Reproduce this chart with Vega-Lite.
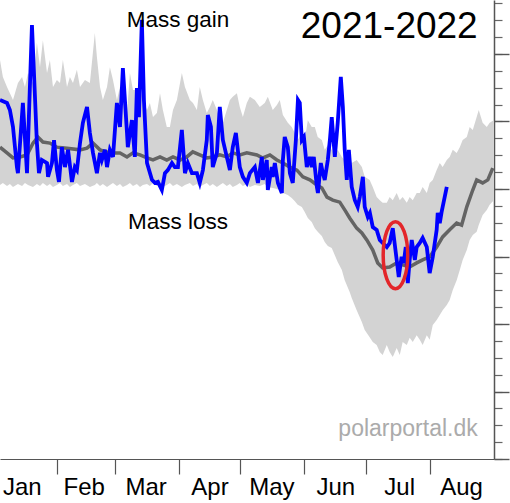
{
  "$schema": "https://vega.github.io/schema/vega-lite/v6.json",
  "width": 494,
  "height": 459,
  "autosize": {"type": "none"},
  "padding": {"left": 0, "top": 0, "right": 16, "bottom": 44},
  "background": "white",
  "config": {"view": {"stroke": null}, "font": "Liberation Sans"},
  "resolve": {"axis": {"x": "independent", "y": "independent"}},
  "datasets": {
    "band": [
      {"d":3.4,"hi":3.82,"lo":0.12},{"d":4.8,"hi":3.32,"lo":0.18},{"d":6.8,"hi":3.02,"lo":0.09},{"d":8.2,"hi":2.84,"lo":0.15},
      {"d":9.7,"hi":2.64,"lo":0.06},{"d":12.1,"hi":3.14,"lo":0.15},{"d":14.1,"hi":3.32,"lo":0.09},{"d":15.5,"hi":3.02,"lo":0.18},
      {"d":17.0,"hi":3.44,"lo":0.12},{"d":19.4,"hi":3.14,"lo":0.06},{"d":21.3,"hi":4.33,"lo":0.15},{"d":22.8,"hi":3.61,"lo":0.09},
      {"d":24.2,"hi":4.41,"lo":0.18},{"d":26.2,"hi":3.44,"lo":0.09},{"d":27.6,"hi":3.82,"lo":0.15},{"d":29.1,"hi":3.02,"lo":0.06},
      {"d":31.0,"hi":3.23,"lo":0.12},{"d":32.5,"hi":3.14,"lo":0.18},{"d":33.9,"hi":3.82,"lo":0.09},{"d":35.9,"hi":3.02,"lo":0.15},
      {"d":37.3,"hi":3.32,"lo":0.06},{"d":38.8,"hi":3.14,"lo":0.12},{"d":40.7,"hi":3.53,"lo":0.18},{"d":42.2,"hi":3.02,"lo":0.09},
      {"d":44.6,"hi":3.23,"lo":0.15},{"d":47.0,"hi":3.14,"lo":0.06},{"d":49.4,"hi":4.62,"lo":0.12},{"d":50.4,"hi":3.91,"lo":0.18},
      {"d":51.9,"hi":3.02,"lo":0.09},{"d":53.3,"hi":2.64,"lo":0.15},{"d":55.3,"hi":3.02,"lo":0.06},{"d":56.7,"hi":3.61,"lo":0.12},
      {"d":58.2,"hi":3.23,"lo":0.18},{"d":60.1,"hi":2.64,"lo":0.09},{"d":61.6,"hi":3.02,"lo":0.15},{"d":63.0,"hi":2.73,"lo":0.06},
      {"d":65.0,"hi":2.25,"lo":0.12},{"d":66.4,"hi":3.44,"lo":0.18},{"d":67.9,"hi":2.93,"lo":0.09},{"d":69.8,"hi":2.93,"lo":0.15},
      {"d":71.3,"hi":3.02,"lo":0.06},{"d":72.7,"hi":2.64,"lo":0.12},{"d":74.7,"hi":2.34,"lo":0.15},{"d":76.1,"hi":2.55,"lo":0.09},
      {"d":77.6,"hi":2.13,"lo":0.18},{"d":79.5,"hi":2.25,"lo":0.09},{"d":81.0,"hi":2.84,"lo":0.15},{"d":82.4,"hi":2.34,"lo":0.06},
      {"d":84.3,"hi":1.84,"lo":0.12},{"d":85.8,"hi":1.84,"lo":0.18},{"d":87.3,"hi":2.34,"lo":0.09},{"d":89.2,"hi":2.64,"lo":0.15},
      {"d":91.6,"hi":3.44,"lo":0.06},{"d":93.1,"hi":3.02,"lo":0.12},{"d":95.5,"hi":2.64,"lo":0.18},{"d":97.0,"hi":2.55,"lo":0.09},
      {"d":98.9,"hi":2.34,"lo":0.15},{"d":100.3,"hi":3.02,"lo":0.06},{"d":101.8,"hi":2.64,"lo":0.12},{"d":103.7,"hi":2.25,"lo":0.18},
      {"d":105.2,"hi":2.43,"lo":0.09},{"d":106.6,"hi":2.64,"lo":0.15},{"d":108.6,"hi":2.34,"lo":0.06},{"d":110.0,"hi":2.04,"lo":0.12},
      {"d":111.5,"hi":1.96,"lo":0.18},{"d":113.4,"hi":2.34,"lo":0.09},{"d":114.9,"hi":2.64,"lo":0.15},{"d":116.3,"hi":2.73,"lo":0.06},
      {"d":118.3,"hi":2.84,"lo":0.12},{"d":119.7,"hi":2.43,"lo":0.18},{"d":121.2,"hi":2.13,"lo":0.09},{"d":123.1,"hi":2.55,"lo":0.15},
      {"d":124.6,"hi":2.73,"lo":0.06},{"d":127.0,"hi":2.64,"lo":0.12},{"d":129.4,"hi":2.43,"lo":0.09},{"d":131.8,"hi":2.55,"lo":0.15},
      {"d":133.3,"hi":2.73,"lo":0.06},{"d":135.7,"hi":2.34,"lo":0.03},{"d":137.7,"hi":2.49,"lo":0.0},{"d":139.1,"hi":2.64,"lo":-0.03},
      {"d":140.6,"hi":2.19,"lo":-0.12},{"d":143.0,"hi":1.96,"lo":-0.18},{"d":144.9,"hi":1.84,"lo":-0.27},{"d":146.4,"hi":1.66,"lo":-0.36},
      {"d":147.8,"hi":1.45,"lo":-0.47},{"d":149.8,"hi":1.66,"lo":-0.53},{"d":151.2,"hi":1.45,"lo":-0.68},{"d":152.7,"hi":2.04,"lo":-0.86},
      {"d":154.6,"hi":1.84,"lo":-0.98},{"d":156.1,"hi":1.84,"lo":-1.16},{"d":157.5,"hi":1.54,"lo":-1.27},{"d":159.5,"hi":1.45,"lo":-1.39},
      {"d":160.9,"hi":1.16,"lo":-1.57},{"d":162.4,"hi":1.30,"lo":-1.69},{"d":164.3,"hi":1.16,"lo":-1.75},{"d":165.8,"hi":1.01,"lo":-1.96},
      {"d":167.2,"hi":1.16,"lo":-2.16},{"d":169.2,"hi":0.95,"lo":-2.40},{"d":170.6,"hi":0.86,"lo":-2.70},{"d":173.0,"hi":0.95,"lo":-3.05},
      {"d":174.0,"hi":0.77,"lo":-3.23},{"d":176.4,"hi":0.86,"lo":-3.59},{"d":178.9,"hi":0.65,"lo":-3.94},{"d":180.3,"hi":0.36,"lo":-4.18},
      {"d":182.7,"hi":0.27,"lo":-4.39},{"d":184.2,"hi":0.06,"lo":-4.53},{"d":186.1,"hi":-0.24,"lo":-4.62},{"d":187.6,"hi":-0.33,"lo":-4.83},
      {"d":189.0,"hi":-0.41,"lo":-4.92},{"d":191.0,"hi":-0.41,"lo":-4.62},{"d":192.4,"hi":-0.24,"lo":-4.83},{"d":193.9,"hi":-0.33,"lo":-4.98},
      {"d":195.8,"hi":-0.12,"lo":-4.71},{"d":197.3,"hi":-0.33,"lo":-4.92},{"d":198.7,"hi":-0.24,"lo":-4.53},{"d":200.7,"hi":-0.41,"lo":-4.62},
      {"d":202.1,"hi":-0.24,"lo":-4.41},{"d":203.6,"hi":-0.33,"lo":-4.53},{"d":205.5,"hi":-0.12,"lo":-4.33},{"d":207.0,"hi":-0.12,"lo":-4.47},
      {"d":208.4,"hi":0.06,"lo":-4.62},{"d":210.4,"hi":-0.12,"lo":-4.33},{"d":211.8,"hi":0.18,"lo":-4.47},{"d":213.3,"hi":0.27,"lo":-4.03},
      {"d":215.2,"hi":0.56,"lo":-3.88},{"d":216.7,"hi":0.77,"lo":-3.73},{"d":218.1,"hi":0.65,"lo":-3.59},{"d":220.1,"hi":0.86,"lo":-3.44},
      {"d":221.5,"hi":0.95,"lo":-3.29},{"d":223.0,"hi":1.16,"lo":-2.99},{"d":224.9,"hi":1.07,"lo":-2.70},{"d":226.4,"hi":1.24,"lo":-2.40},
      {"d":227.8,"hi":1.45,"lo":-2.10},{"d":229.8,"hi":1.54,"lo":-1.81},{"d":231.2,"hi":1.84,"lo":-1.51},{"d":232.7,"hi":1.75,"lo":-1.36},
      {"d":234.6,"hi":2.13,"lo":-1.27},{"d":235.6,"hi":2.34,"lo":-1.07},{"d":237.5,"hi":1.96,"lo":-0.77},{"d":239.5,"hi":1.84,"lo":-0.62},
      {"d":240.9,"hi":1.96,"lo":-0.47},{"d":242.9,"hi":2.04,"lo":-0.33}
    ],
    "mean": [
      {"d":3.4,"v":1.24},{"d":6.8,"v":1.07},{"d":9.7,"v":0.92},{"d":13.1,"v":0.95},{"d":16.5,"v":1.01},{"d":19.4,"v":1.36},
      {"d":21.8,"v":1.54},{"d":24.2,"v":1.39},{"d":27.6,"v":1.36},{"d":31.0,"v":1.24},{"d":35.9,"v":1.21},{"d":42.2,"v":1.16},
      {"d":45.6,"v":1.21},{"d":48.5,"v":1.36},{"d":51.9,"v":1.16},{"d":56.7,"v":1.07},{"d":61.6,"v":1.07},{"d":65.0,"v":0.95},
      {"d":67.9,"v":1.07},{"d":71.3,"v":1.01},{"d":74.7,"v":0.92},{"d":77.6,"v":0.86},{"d":81.0,"v":0.95},{"d":84.3,"v":0.86},
      {"d":87.3,"v":0.95},{"d":90.7,"v":0.86},{"d":94.0,"v":0.95},{"d":96.9,"v":1.10},{"d":100.3,"v":1.01},{"d":103.7,"v":0.92},
      {"d":106.6,"v":0.95},{"d":110.0,"v":1.01},{"d":113.4,"v":0.95},{"d":116.3,"v":1.07},{"d":119.7,"v":1.01},{"d":123.1,"v":1.07},
      {"d":128.0,"v":1.01},{"d":130.9,"v":0.92},{"d":134.3,"v":1.01},{"d":137.7,"v":0.86},{"d":140.6,"v":0.77},{"d":144.0,"v":0.65},
      {"d":147.4,"v":0.56},{"d":150.3,"v":0.36},{"d":153.7,"v":0.27},{"d":157.1,"v":0.12},{"d":159.5,"v":0.03},{"d":162.0,"v":-0.24},
      {"d":164.8,"v":-0.33},{"d":168.2,"v":-0.39},{"d":170.6,"v":-0.62},{"d":173.0,"v":-0.86},{"d":176.4,"v":-1.16},{"d":178.9,"v":-1.30},
      {"d":181.3,"v":-1.51},{"d":184.2,"v":-1.81},{"d":186.6,"v":-2.19},{"d":189.0,"v":-2.34},{"d":192.4,"v":-2.31},{"d":195.8,"v":-2.19},
      {"d":198.7,"v":-2.25},{"d":202.1,"v":-2.31},{"d":205.5,"v":-2.19},{"d":208.4,"v":-2.10},{"d":211.8,"v":-2.01},{"d":215.2,"v":-1.72},
      {"d":218.1,"v":-1.42},{"d":221.5,"v":-1.21},{"d":224.9,"v":-1.01},{"d":227.3,"v":-1.07},{"d":229.8,"v":-0.53},{"d":232.7,"v":-0.03},
      {"d":234.6,"v":0.27},{"d":237.5,"v":0.18},{"d":240.0,"v":0.27},{"d":242.4,"v":0.62}
    ],
    "season": [
      {"d":3.4,"v":2.64},{"d":6.8,"v":2.55},{"d":8.2,"v":2.34},{"d":9.7,"v":1.84},{"d":11.6,"v":0.65},{"d":12.1,"v":0.47},
      {"d":14.5,"v":2.55},{"d":16.5,"v":0.47},{"d":18.9,"v":4.86},{"d":21.3,"v":1.36},{"d":22.3,"v":0.47},{"d":23.7,"v":0.86},
      {"d":26.2,"v":0.77},{"d":26.7,"v":0.36},{"d":28.6,"v":0.77},{"d":29.6,"v":1.45},{"d":31.0,"v":0.56},{"d":32.0,"v":0.21},
      {"d":33.4,"v":1.24},{"d":34.9,"v":0.65},{"d":36.4,"v":1.16},{"d":38.3,"v":0.21},{"d":39.7,"v":0.65},{"d":40.7,"v":0.56},
      {"d":42.2,"v":1.36},{"d":43.6,"v":1.96},{"d":45.6,"v":2.43},{"d":47.0,"v":1.66},{"d":48.5,"v":1.07},{"d":50.4,"v":0.47},
      {"d":51.9,"v":1.07},{"d":52.8,"v":0.86},{"d":54.3,"v":1.16},{"d":55.3,"v":0.65},{"d":56.7,"v":1.16},{"d":58.2,"v":0.95},
      {"d":60.1,"v":2.55},{"d":61.6,"v":1.84},{"d":63.0,"v":3.58},{"d":65.0,"v":1.66},{"d":65.4,"v":1.24},{"d":67.4,"v":2.04},
      {"d":68.8,"v":0.95},{"d":69.8,"v":2.99},{"d":70.8,"v":2.13},{"d":72.2,"v":5.01},{"d":73.2,"v":2.64},{"d":74.7,"v":0.77},
      {"d":77.1,"v":0.27},{"d":78.5,"v":0.18},{"d":80.0,"v":0.21},{"d":81.9,"v":-0.03},{"d":83.4,"v":0.47},{"d":84.8,"v":0.56},
      {"d":86.8,"v":0.77},{"d":88.2,"v":0.65},{"d":89.7,"v":0.65},{"d":91.6,"v":1.75},{"d":93.1,"v":0.47},{"d":94.5,"v":0.77},
      {"d":96.5,"v":0.47},{"d":98.9,"v":0.47},{"d":100.3,"v":0.18},{"d":101.8,"v":0.56},{"d":103.7,"v":1.45},{"d":104.2,"v":2.19},
      {"d":105.7,"v":1.84},{"d":106.6,"v":0.65},{"d":108.6,"v":1.07},{"d":110.0,"v":2.43},{"d":111.5,"v":1.45},{"d":113.4,"v":0.95},
      {"d":114.9,"v":0.56},{"d":116.3,"v":1.24},{"d":117.8,"v":1.66},{"d":119.7,"v":0.65},{"d":121.2,"v":0.36},{"d":123.1,"v":0.18},
      {"d":124.6,"v":0.47},{"d":127.0,"v":0.65},{"d":128.5,"v":0.18},{"d":130.4,"v":0.95},{"d":130.9,"v":0.27},{"d":132.8,"v":0.86},
      {"d":133.3,"v":-0.03},{"d":135.2,"v":0.65},{"d":135.7,"v":0.36},{"d":136.7,"v":0.77},{"d":138.2,"v":0.18},{"d":140.1,"v":-0.12},
      {"d":140.6,"v":0.86},{"d":141.5,"v":1.54},{"d":143.0,"v":1.24},{"d":144.0,"v":0.47},{"d":145.4,"v":0.18},{"d":146.9,"v":1.45},
      {"d":147.9,"v":2.64},{"d":148.8,"v":2.55},{"d":149.8,"v":1.45},{"d":150.8,"v":1.54},{"d":152.2,"v":0.65},{"d":153.7,"v":0.95},
      {"d":154.6,"v":0.65},{"d":155.6,"v":0.95},{"d":157.1,"v":0.06},{"d":157.6,"v":-0.12},{"d":159.0,"v":0.77},{"d":160.0,"v":0.47},
      {"d":160.9,"v":0.27},{"d":162.4,"v":0.86},{"d":163.4,"v":1.45},{"d":164.3,"v":2.13},{"d":165.8,"v":0.95},{"d":167.2,"v":1.96},
      {"d":168.7,"v":3.32},{"d":169.7,"v":2.43},{"d":170.6,"v":1.16},{"d":171.6,"v":0.27},{"d":172.6,"v":1.16},{"d":174.0,"v":0.06},
      {"d":175.5,"v":-0.33},{"d":176.9,"v":-0.53},{"d":177.9,"v":-0.24},{"d":179.4,"v":0.36},{"d":180.3,"v":-0.53},{"d":181.8,"v":-0.83},
      {"d":182.8,"v":-0.71},{"d":184.2,"v":-1.13},{"d":186.1,"v":-1.21},{"d":187.6,"v":-1.51},{"d":189.0,"v":-1.60},{"d":191.0,"v":-1.72},
      {"d":192.4,"v":-1.60},{"d":193.9,"v":-1.16},{"d":195.8,"v":-2.10},{"d":196.8,"v":-2.61},{"d":198.2,"v":-2.01},{"d":199.2,"v":-2.19},
      {"d":200.2,"v":-1.72},{"d":201.2,"v":-2.79},{"d":202.1,"v":-2.10},{"d":203.1,"v":-1.51},{"d":204.6,"v":-2.10},{"d":205.5,"v":-1.72},
      {"d":207.0,"v":-1.60},{"d":208.4,"v":-1.45},{"d":210.4,"v":-1.72},{"d":211.8,"v":-2.49},{"d":213.3,"v":-2.01},{"d":215.2,"v":-1.21},
      {"d":215.7,"v":-0.71},{"d":216.7,"v":-1.01},{"d":217.6,"v":-0.68},{"d":218.1,"v":-0.53},{"d":220.1,"v":0.06}
    ],
    "highlight": [{"d":195.2,"v":-1.96}],
    "notes": [
      {"d":89.7,"v":4.8,"t":"Mass gain","kind":"side"},
      {"d":89.7,"v":-1.19,"t":"Mass loss","kind":"side"},
      {"d":235.1,"v":4.47,"t":"2021-2022","kind":"season"},
      {"d":235.1,"v":-7.32,"t":"polarportal.dk","kind":"credit"}
    ]
  },
  "layer": [
    {
      "data": {"name": "band"},
      "mark": {"type": "area", "color": "#d3d3d3", "clip": true},
      "encoding": {
        "x": {
          "field": "d", "type": "quantitative",
          "scale": {"domain": [3.4, 243], "nice": false, "zero": false},
          "axis": {
            "orient": "bottom", "title": null, "grid": false, "labels": false,
            "values": [31, 59, 90, 120, 151, 181, 212],
            "domain": true, "domainColor": "#555555", "domainWidth": 1.2,
            "ticks": true, "tickColor": "#555555", "tickWidth": 1.2, "tickSize": 15
          }
        },
        "y": {
          "field": "hi", "type": "quantitative",
          "scale": {"domain": [-8, 5.6], "nice": false, "zero": false},
          "axis": {
            "orient": "right", "title": null, "grid": false, "labels": false,
            "values": [-8,-7.5,-7,-6.5,-6,-5.5,-5,-4.5,-4,-3.5,-3,-2.5,-2,-1.5,-1,-0.5,0,0.5,1,1.5,2,2.5,3,3.5,4,4.5,5,5.5],
            "domain": true, "domainColor": "#555555", "domainWidth": 1.5,
            "ticks": true, "tickColor": "#666666", "tickWidth": 1.2, "tickSize": 8
          }
        },
        "y2": {"field": "lo"}
      }
    },
    {
      "data": {"name": "mean"},
      "mark": {"type": "line", "color": "#646464", "strokeWidth": 3.5, "clip": true},
      "encoding": {
        "x": {
          "field": "d", "type": "quantitative",
          "axis": {
            "orient": "bottom", "title": null, "grid": false,
            "values": [14, 44, 74, 105, 135, 166, 197, 227],
            "labelExpr": "datum.value == 14 ? 'Jan' : datum.value == 44 ? 'Feb' : datum.value == 74 ? 'Mar' : datum.value == 105 ? 'Apr' : datum.value == 135 ? 'May' : datum.value == 166 ? 'Jun' : datum.value == 197 ? 'Jul' : 'Aug'",
            "domain": false, "ticks": false, "tickSize": 0,
            "labelFont": "Liberation Sans", "labelFontSize": 24, "labelColor": "black",
            "labelPadding": 16, "labelOverlap": false, "labelFlush": false, "labelBound": false
          }
        },
        "y": {
          "field": "v", "type": "quantitative",
          "axis": {
            "orient": "right", "title": null, "grid": false, "labels": false,
            "values": [-8, -6, -4, -2, 0, 2, 4],
            "domain": false, "ticks": true, "tickColor": "#555555", "tickWidth": 1.4, "tickSize": 15
          }
        }
      }
    },
    {
      "mark": {"type": "rule", "color": "black", "strokeWidth": 1},
      "encoding": {"y": {"datum": 0, "type": "quantitative", "axis": null}}
    },
    {
      "data": {"name": "season"},
      "mark": {"type": "line", "color": "#0000ff", "strokeWidth": 3.8, "clip": true},
      "encoding": {
        "x": {"field": "d", "type": "quantitative", "axis": null},
        "y": {"field": "v", "type": "quantitative", "axis": null}
      }
    },
    {
      "data": {"name": "highlight"},
      "mark": {
        "type": "point", "shape": "M0,-1A0.366,1 0 1 1 0,1A0.366,1 0 1 1 0,-1Z",
        "size": 4489, "filled": false, "stroke": "#e3262a", "strokeWidth": 3.5, "opacity": 1
      },
      "encoding": {
        "x": {"field": "d", "type": "quantitative", "axis": null},
        "y": {"field": "v", "type": "quantitative", "axis": null}
      }
    },
    {
      "data": {"name": "notes"},
      "transform": [{"filter": "datum.kind == 'side'"}],
      "mark": {"type": "text", "font": "Liberation Sans", "fontSize": 22.5, "align": "center", "baseline": "alphabetic", "color": "black"},
      "encoding": {
        "x": {"field": "d", "type": "quantitative", "axis": null},
        "y": {"field": "v", "type": "quantitative", "axis": null},
        "text": {"field": "t"}
      }
    },
    {
      "data": {"name": "notes"},
      "transform": [{"filter": "datum.kind == 'season'"}],
      "mark": {"type": "text", "font": "Liberation Sans", "fontSize": 37, "align": "right", "baseline": "alphabetic", "color": "black"},
      "encoding": {
        "x": {"field": "d", "type": "quantitative", "axis": null},
        "y": {"field": "v", "type": "quantitative", "axis": null},
        "text": {"field": "t"}
      }
    },
    {
      "data": {"name": "notes"},
      "transform": [{"filter": "datum.kind == 'credit'"}],
      "mark": {"type": "text", "font": "Liberation Sans", "fontSize": 23, "align": "right", "baseline": "alphabetic", "color": "#ababab"},
      "encoding": {
        "x": {"field": "d", "type": "quantitative", "axis": null},
        "y": {"field": "v", "type": "quantitative", "axis": null},
        "text": {"field": "t"}
      }
    }
  ]
}
